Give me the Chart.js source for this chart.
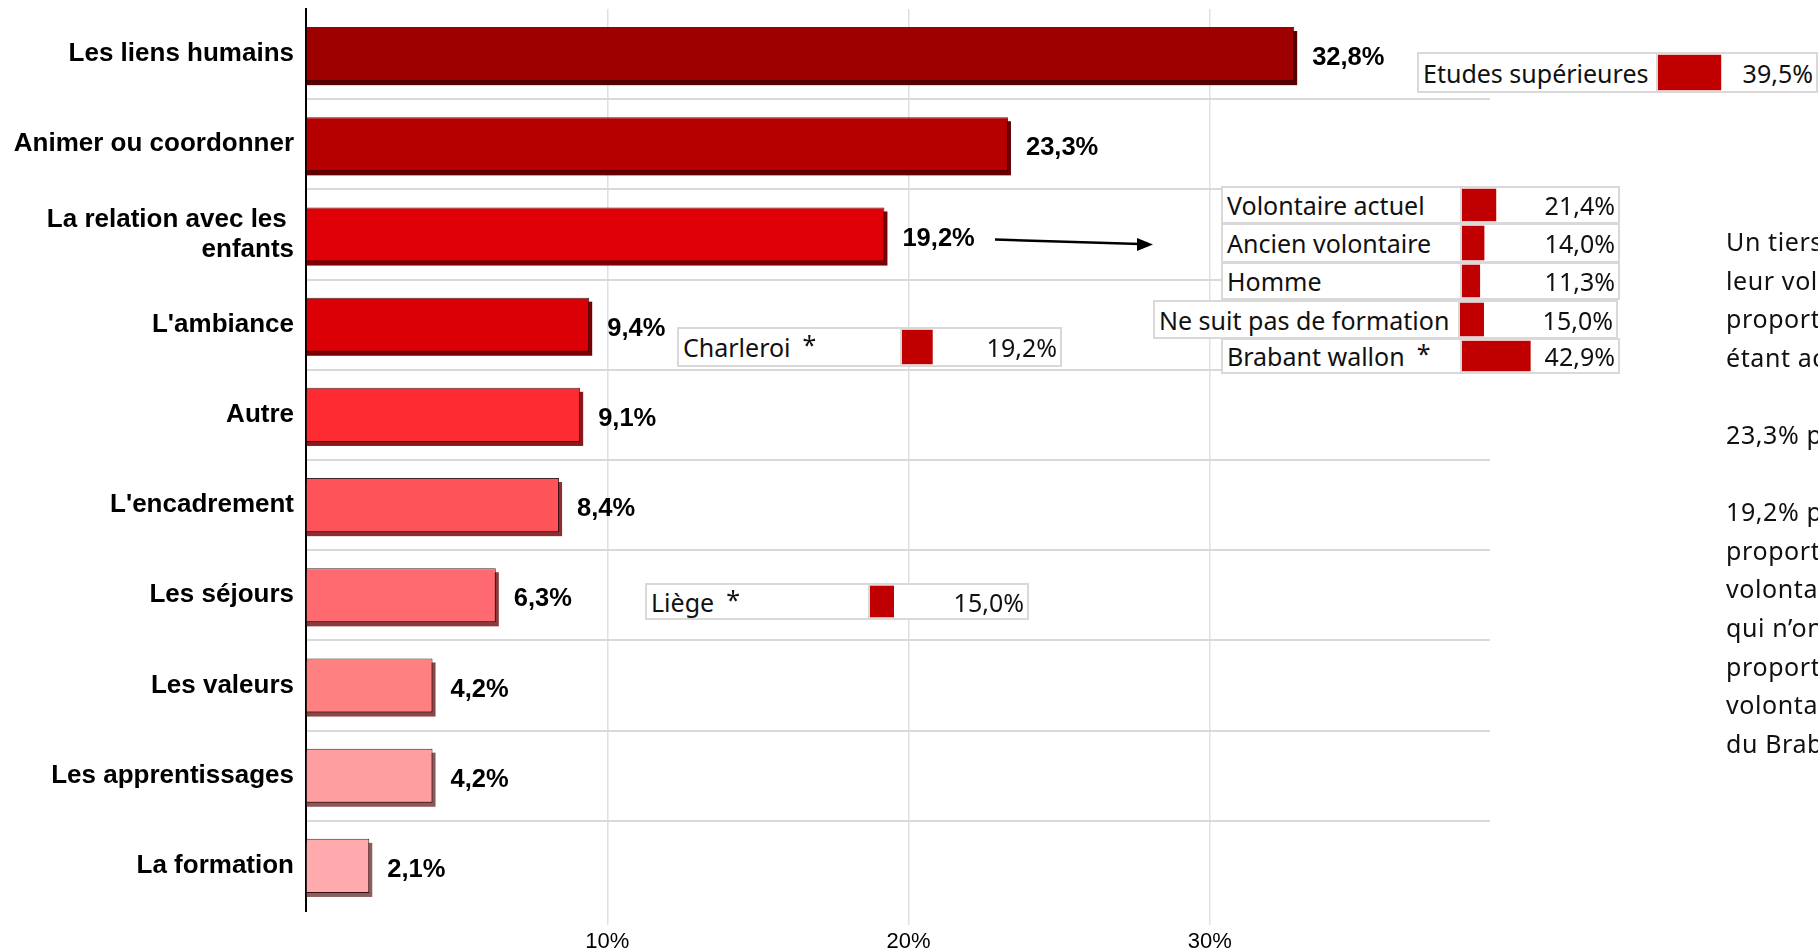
<!DOCTYPE html>
<html lang="fr">
<head>
<meta charset="utf-8">
<title>Ce que retiennent les volontaires</title>
<script src="https://cdn.jsdelivr.net/npm/chart.js"></script>
<style>
  html, body { margin: 0; padding: 0; background: #fff; }
  body { width: 1818px; height: 951px; overflow: hidden; position: relative; font-family: 'Noto Sans', sans-serif; }
  #mainChart { position: absolute; left: 0; top: 0; }
  .box { position: absolute; box-sizing: border-box; border: 2px solid #d9d9d9; background: #fff; display: flex; align-items: center; font-size: 25px; color: #111; }
  .box .lab { box-sizing: border-box; height: 100%; border-right: 2px solid #d9d9d9; padding-left: 4px; display: flex; align-items: center; white-space: nowrap; }
  .box canvas { display: block; }
  .box .val { flex: 1; text-align: right; padding-right: 3px; white-space: nowrap; }
  .star { margin-left: 12px; position: relative; top: -3px; }
  #arrow { position: absolute; left: 0; top: 0; pointer-events: none; }
  #comment { position: absolute; left: 1726px; top: 222px; width: 400px; white-space: nowrap; font-size: 25px; letter-spacing: 0.6px; line-height: 38.6px; color: #111; }
</style>
</head>
<body>
<canvas id="mainChart" width="1818" height="951"></canvas>
<svg id="arrow" width="1818" height="951">
  <line x1="995" y1="239.5" x2="1140" y2="244" stroke="#000" stroke-width="2.5"/>
  <polygon points="1137,238 1153,244.5 1137,251" fill="#000"/>
</svg>
<div id="details"></div>
<div id="comment">
  Un tiers des volontaires<br>
  leur volontariat, cette<br>
  proportion étant plus<br>
  étant actuellement<br>
  <br>
  23,3% parlent de<br>
  <br>
  19,2% parlent de<br>
  proportion plus élevée<br>
  volontaires actuels<br>
  qui n’ont pas suivi<br>
  proportion de<br>
  volontaires<br>
  du Brabant wallon
</div>
<script>
// main chart data
const categories = ['Les liens humains', 'Animer ou coordonner', ['La relation avec les ', 'enfants'], "L'ambiance", 'Autre',
    "L'encadrement", 'Les séjours', 'Les valeurs', 'Les apprentissages', 'La formation'];
const values = [32.8, 23.3, 19.2, 9.4, 9.1, 8.4, 6.3, 4.2, 4.2, 2.1];
const barColours = ['#9E0000', '#B60000', '#E00008', '#DA0006', '#FF2B33', '#FF535A', '#FF6A70', '#FF8080', '#FF9EA1', '#FFABAD'];

// small detail tables
const detailLabels = ['Etudes supérieures', 'Volontaire actuel', 'Ancien volontaire', 'Homme', 'Ne suit pas de formation',
    'Brabant wallon', 'Charleroi', 'Liège'];
const detailValues = [39.5, 21.4, 14.0, 11.3, 15.0, 42.9, 19.2, 15.0];
const detailStars = [false, false, false, false, false, true, true, true];

// where each detail row sits on the page
const detailBoxes = [
    { left: 1417, top: 52, width: 401, height: 41, labW: 239 },
    { left: 1221, top: 186, width: 399, height: 38, labW: 239 },
    { left: 1221, top: 223, width: 399, height: 40, labW: 239 },
    { left: 1221, top: 262, width: 399, height: 38, labW: 239 },
    { left: 1153, top: 300, width: 465, height: 39, labW: 305 },
    { left: 1221, top: 338, width: 399, height: 36, labW: 239 },
    { left: 677, top: 327, width: 385, height: 40, labW: 223 },
    { left: 645, top: 583, width: 384, height: 37, labW: 223 }
];

function formatPct(v) {
    return v.toFixed(1).replace('.', ',') + '%';
}

function darken(hex, f) {
    const n = parseInt(hex.slice(1), 16);
    const r = Math.round(((n >> 16) & 255) * f);
    const g = Math.round(((n >> 8) & 255) * f);
    const b = Math.round((n & 255) * f);
    return `rgb(${r},${g},${b})`;
}

// 3D look : darker block behind each bar
const shadowPlugin = {
    id: 'shadow3d',
    beforeDatasetsDraw(chart) {
        const ctx = chart.ctx;
        ctx.save();
        chart.getDatasetMeta(0).data.forEach((bar, i) => {
            const p = bar.getProps(['x', 'y', 'base', 'height'], true);
            ctx.fillStyle = darken(barColours[i], 0.55);
            ctx.fillRect(p.base, p.y - p.height / 2 + 4, p.x - p.base + 3, p.height);
        });
        ctx.restore();
    }
};

const valueLabels = {
    id: 'valueLabels',
    afterDatasetsDraw(chart) {
        const ctx = chart.ctx;
        ctx.save();
        ctx.font = 'bold 25.5px "Liberation Sans", Arial, sans-serif';
        ctx.fillStyle = '#000';
        ctx.textBaseline = 'middle';
        chart.getDatasetMeta(0).data.forEach((bar, i) => {
            ctx.fillText(formatPct(values[i]), bar.x + 18, bar.y + 4);
        });
        ctx.restore();
    }
};

function createMainChart(canvasElement) {
    new Chart(canvasElement, {
        type: 'bar',
        data: {
            labels: categories,
            datasets: [{
                data: values,
                backgroundColor: barColours,
                borderColor: 'rgba(30,0,0,0.85)',
                borderWidth: 1,
                borderSkipped: 'start',
                barPercentage: 0.6,
                categoryPercentage: 1
            }]
        },
        options: {
            indexAxis: 'y',
            responsive: false,
            animation: false,
            devicePixelRatio: 1,
            layout: { padding: { top: 9, right: 328, bottom: 0, left: 0 } },
            plugins: { legend: { display: false }, tooltip: { enabled: false } },
            scales: {
                x: {
                    min: 0,
                    max: 39.3,
                    afterFit: (s) => { s.height = 40; s.paddingLeft = 0; s.paddingRight = 0; },
                    border: { display: false },
                    grid: {
                        color: '#e0e0e0',
                        lineWidth: 1.5,
                        drawTicks: true,
                        tickLength: 14,
                        tickColor: (c) => (c.tick && c.tick.value === 0 ? 'rgba(0,0,0,0)' : '#e0e0e0')
                    },
                    ticks: {
                        stepSize: 10,
                        includeBounds: false,
                        padding: 4,
                        color: '#000',
                        font: { family: '"Liberation Sans", Arial, sans-serif', size: 22 },
                        callback: (v) => (v === 0 ? '' : v + '%')
                    }
                },
                y: {
                    afterFit: (s) => { s.width = 306; s.paddingTop = 0; s.paddingBottom = 0; },
                    border: { display: true, color: '#000', width: 2 },
                    grid: {
                        offset: true,
                        drawTicks: false,
                        lineWidth: 2,
                        color: (c) => (c.index > 0 ? '#d9d9d9' : 'rgba(0,0,0,0)')
                    },
                    ticks: {
                        padding: 12,
                        color: '#000',
                        font: { family: '"Liberation Sans", Arial, sans-serif', size: 26, weight: 'bold', lineHeight: 1.15 }
                    }
                }
            }
        },
        plugins: [shadowPlugin, valueLabels]
    });
}

function createMiniBar(canvasElement, value) {
    new Chart(canvasElement, {
        type: 'bar',
        data: {
            labels: [''],
            datasets: [{
                data: [value],
                backgroundColor: '#C00000',
                barPercentage: 0.96,
                categoryPercentage: 1
            }]
        },
        options: {
            indexAxis: 'y',
            responsive: false,
            animation: false,
            devicePixelRatio: 1,
            layout: { padding: 0 },
            plugins: { legend: { display: false }, tooltip: { enabled: false } },
            scales: {
                x: { display: false, min: 0, max: 50 },
                y: { display: false }
            }
        }
    });
}

function buildDetails() {
    const holder = document.getElementById('details');
    detailLabels.forEach((label, i) => {
        const b = detailBoxes[i];
        const row = document.createElement('div');
        row.className = 'box';
        row.style.left = b.left + 'px';
        row.style.top = b.top + 'px';
        row.style.width = b.width + 'px';
        row.style.height = b.height + 'px';

        const lab = document.createElement('div');
        lab.className = 'lab';
        lab.style.width = b.labW + 'px';
        lab.textContent = label;
        if (detailStars[i]) {
            const star = document.createElement('span');
            star.className = 'star';
            star.textContent = '*';
            lab.appendChild(star);
        }

        const cv = document.createElement('canvas');
        cv.width = 80;
        cv.height = b.height - 4;

        const val = document.createElement('div');
        val.className = 'val';
        val.textContent = formatPct(detailValues[i]);

        row.appendChild(lab);
        row.appendChild(cv);
        row.appendChild(val);
        holder.appendChild(row);
        createMiniBar(cv, detailValues[i]);
    });
}

createMainChart(document.getElementById('mainChart'));
buildDetails();
</script>
</body>
</html>
